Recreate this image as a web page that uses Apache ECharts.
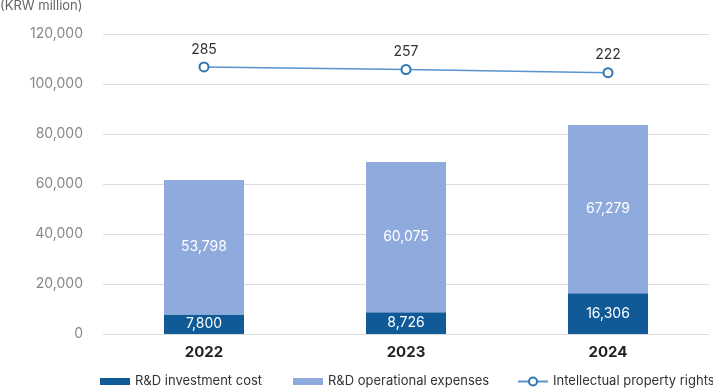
<!DOCTYPE html>
<html><head><meta charset="utf-8">
<script src="https://cdn.jsdelivr.net/npm/echarts@6/dist/echarts.min.js"></script>
<style>html,body{margin:0;padding:0;background:#fff}#c{width:713px;height:391px}</style>
</head><body><div id="c"></div>
<script>
const categories = ['2022', '2023', '2024'];
const investmentCost = [7800, 8726, 16306];
const operationalExpenses = [53798, 60075, 67279];
const ipRights = [285, 257, 222];
const yTicks = [0, 20000, 40000, 60000, 80000, 100000, 120000];

const FONT = 'Inter, "Noto Sans", sans-serif';
const chart = echarts.init(document.getElementById('c'));
const fmt = v => Number(v).toLocaleString('en-US');
const legText = { fontSize: 13, color: '#333', fontFamily: FONT };
chart.setOption({
  animation: false,
  textStyle: { fontFamily: FONT },
  title: { text: '(KRW million)', left: 0, top: 0, padding: 0, textStyle: { fontSize: 13, fontWeight: 'normal', color: '#666', fontFamily: FONT } },
  grid: { left: 103, right: 4, top: 34, bottom: 57 },
  legend: [
    { left: 100, top: 375, padding: 0, itemWidth: 30, itemHeight: 7, data: [{ name: 'R&D investment cost', icon: 'rect' }], textStyle: legText },
    { left: 293, top: 375, padding: 0, itemWidth: 30, itemHeight: 7, data: [{ name: 'R&D operational expenses', icon: 'rect' }], textStyle: legText },
    { left: 517, top: 375, padding: 0, itemWidth: 30, itemHeight: 10, data: ['Intellectual property rights'], textStyle: legText }
  ],
  xAxis: {
    type: 'category', data: categories,
    axisLine: { show: false }, axisTick: { show: false },
    axisLabel: { fontSize: 15, fontWeight: 'bold', color: '#222', margin: 11, fontFamily: FONT }
  },
  yAxis: [
    { type: 'value', min: yTicks[0], max: yTicks[yTicks.length - 1], interval: 20000,
      axisLabel: { fontSize: 14, color: '#888', margin: 20, formatter: fmt, fontFamily: FONT },
      splitLine: { lineStyle: { color: '#dcdcdc', width: 1 } }, axisLine: { show: false }, axisTick: { show: false } },
    { type: 'value', show: false, min: -2670, max: 650, splitLine: { show: false } }
  ],
  series: [
    { name: 'R&D investment cost', type: 'bar', stack: 'a', barWidth: 80, data: investmentCost,
      itemStyle: { color: '#0F5A97' },
      label: { show: true, position: 'inside', color: '#fff', fontSize: 14, formatter: p => fmt(p.value), fontFamily: FONT } },
    { name: 'R&D operational expenses', type: 'bar', stack: 'a', barWidth: 80, data: operationalExpenses,
      itemStyle: { color: '#8FAADC' },
      label: { show: true, position: 'inside', color: '#fff', fontSize: 14, formatter: p => fmt(p.value), fontFamily: FONT } },
    { name: 'Intellectual property rights', type: 'line', yAxisIndex: 1, data: ipRights,
      symbol: 'emptyCircle', symbolSize: 9,
      lineStyle: { color: '#5B93CF', width: 1.5 },
      itemStyle: { color: '#2E75B6', borderWidth: 2.5 },
      label: { show: true, position: 'top', distance: 5, color: '#333', fontSize: 14, fontFamily: FONT } }
  ]
});
</script></body></html>
